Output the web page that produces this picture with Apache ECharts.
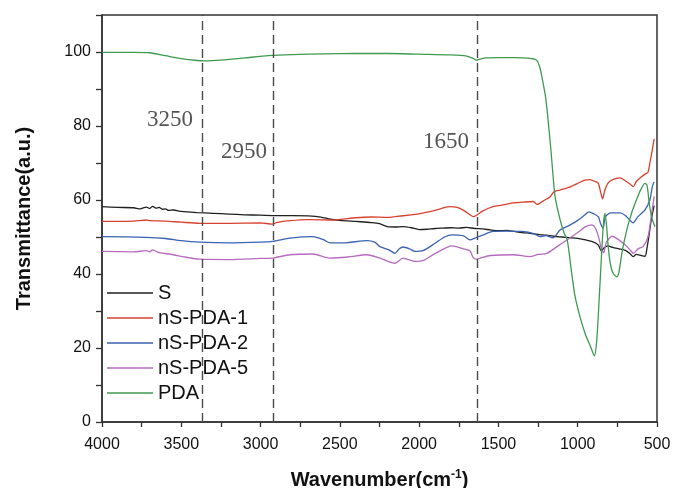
<!DOCTYPE html>
<html>
<head>
<meta charset="utf-8">
<script src="https://cdn.jsdelivr.net/npm/echarts@6/dist/echarts.min.js"></script>
<style>html,body{margin:0;padding:0;background:#fff}#c{width:674px;height:488px}</style>
</head>
<body>
<div id="c"></div>
<script>
// ---- data (wavenumber cm-1, transmittance a.u.) ----
const seriesNames = ['S', 'nS-PDA-1', 'nS-PDA-2', 'nS-PDA-5', 'PDA'];
const xTicks = [4000, 3500, 3000, 2500, 2000, 1500, 1000, 500];
const yTicks = [0, 20, 40, 60, 80, 100];
const markPositions = [3370, 2920, 1635];
const markLabels = ['3250', '2950', '1650'];

const S_wn = [4000,3900,3800,3760,3720,3700,3680,3660,3640,3620,3600,3580,3550,3500,3400,3300,3200,3100,3000,2900,2800,2700,2620,2560,2500,2400,2300,2250,2200,2150,2100,2050,2000,1950,1900,1850,1800,1750,1700,1650,1600,1550,1500,1450,1400,1350,1300,1250,1200,1150,1100,1050,1000,950,900,870,850,835,810,780,740,700,670,650,630,600,575,565,550,535,518];
const S_T  = [58.2,58.0,57.9,57.6,58.1,57.7,58.3,57.8,58.0,57.5,57.6,57.2,57.3,56.9,56.6,56.4,56.2,56.0,55.9,55.8,55.8,55.7,55.4,54.8,54.5,54.2,53.9,53.6,52.8,52.7,52.8,52.5,52.0,52.1,52.3,52.4,52.5,52.4,52.6,52.3,52.2,51.9,51.7,51.8,51.5,51.2,51.0,50.7,50.5,50.2,50.0,49.8,49.6,49.2,48.6,47.8,46.2,47.0,47.6,47.2,46.8,46.4,45.5,44.7,45.3,45.0,44.8,46.5,50.5,55.0,58.5];

const P1_wn = [4000,3800,3720,3700,3600,3500,3382,3200,3000,2924,2900,2814,2700,2543,2400,2300,2200,2152,2050,1995,1900,1806,1760,1720,1679,1660,1640,1600,1534,1480,1408,1350,1282,1255,1238,1200,1175,1150,1112,1050,1000,960,923,890,870,855,843,830,810,780,733,700,670,650,630,600,575,557,545,530,518];
const P1_T  = [54.2,54.3,54.6,54.4,54.3,54.0,53.7,53.7,53.8,53.5,53.9,54.4,54.7,54.6,55.2,55.4,55.3,55.5,56.0,56.3,57.2,58.2,58.0,57.2,56.0,55.5,55.8,57.0,58.2,58.6,59.2,59.4,59.6,58.8,59.2,60.2,60.8,62.2,62.7,63.5,64.5,65.3,65.5,65.0,64.5,62.0,60.3,62.5,64.5,65.5,66.0,65.2,64.3,63.6,65.0,66.2,67.0,67.5,70.0,73.5,76.5];

const P2_wn = [4000,3720,3600,3500,3382,3200,3000,2924,2814,2669,2600,2562,2450,2329,2280,2247,2190,2152,2125,2102,2060,2026,1976,1900,1840,1793,1720,1679,1648,1600,1534,1450,1350,1282,1238,1200,1160,1143,1112,1050,1000,954,930,900,870,855,840,825,790,733,700,670,651,620,576,545,530,519];
const P2_T  = [50.1,49.9,49.6,49.0,48.6,48.4,48.6,48.8,49.7,50.1,49.2,48.4,48.5,49.0,48.6,47.4,46.5,45.6,46.8,47.3,46.8,46.1,46.3,48.3,50.0,50.6,50.3,49.2,49.7,50.5,51.5,51.6,51.5,51.0,50.1,50.4,49.8,50.1,51.9,53.2,54.5,56.0,56.8,56.3,55.5,53.5,52.4,55.5,56.5,56.5,55.8,54.5,53.8,55.5,57.3,60.0,63.5,64.9];

const P5_wn = [4000,3800,3720,3700,3680,3650,3630,3550,3480,3382,3200,3000,2924,2814,2669,2562,2450,2329,2247,2152,2102,2026,1976,1900,1793,1720,1679,1660,1640,1616,1550,1408,1301,1250,1194,1131,1068,1000,950,910,890,865,850,836,820,784,750,702,670,649,620,588,557,540,518];
const P5_T  = [46.1,46.0,46.3,46.0,46.5,45.9,45.7,45.2,44.6,44.0,43.9,44.2,44.3,45.2,45.4,44.3,44.6,45.2,44.3,42.9,44.3,43.4,43.6,45.5,47.6,46.8,46.2,44.5,44.0,44.3,45.0,45.2,44.7,45.3,45.6,47.4,49.2,51.2,52.8,53.3,52.5,49.5,46.5,45.8,48.5,50.2,49.5,47.9,46.5,45.6,46.8,47.4,50.0,54.5,61.0];

const PDA_wn = [4000,3800,3700,3600,3500,3400,3350,3250,3100,2950,2800,2600,2400,2200,2000,1800,1700,1660,1640,1620,1580,1500,1400,1300,1260,1240,1220,1200,1170,1143,1110,1085,1066,1038,1017,986,950,920,895,880,865,850,838,828,818,808,795,780,754,740,720,690,660,630,600,576,563,550,535,513];
const PDA_T  = [99.9,99.9,99.8,99.0,98.2,97.7,97.6,97.8,98.4,99.0,99.3,99.5,99.6,99.6,99.4,99.2,98.9,98.3,97.8,98.0,98.4,98.5,98.5,98.3,97.8,96.0,92.0,87.0,74.0,61.0,54.5,51.0,49.2,40.2,34.0,28.5,23.5,20.5,17.9,22.0,33.0,45.0,53.5,56.4,53.0,47.5,43.0,40.5,39.2,40.5,46.0,52.0,56.5,60.0,63.0,64.5,64.0,59.5,55.5,52.8];

const colors = ['#1f1f1f', '#d8412f', '#3b62b5', '#b66bbf', '#3e9a50'];
const xs = [S_wn, P1_wn, P2_wn, P5_wn, PDA_wn];
const ys = [S_T, P1_T, P2_T, P5_T, PDA_T];

const chart = echarts.init(document.getElementById('c'));
const series = seriesNames.map((n, i) => ({
  name: n,
  type: 'line',
  symbol: 'none',
  showSymbol: false,
  smooth: 0.25,
  data: xs[i].map((w, k) => [w, ys[i][k]]),
  lineStyle: { color: colors[i], width: 1.3 },
  itemStyle: { color: colors[i] },
  z: i === 4 ? 3 : 2,
  animation: false
}));
series[0].markLine = {
  silent: true,
  symbol: 'none',
  animation: false,
  label: { show: false },
  lineStyle: { color: '#4a4a4a', type: [9, 5], width: 1.4 },
  data: markPositions.map(v => ({ xAxis: v }))
};

const fontSans = '"Liberation Sans", Arial, sans-serif';
chart.setOption({
  animation: false,
  backgroundColor: '#fff',
  grid: { left: 102, right: 17, top: 15, bottom: 66, show: true, borderColor: '#333', borderWidth: 1.5, containLabel: false, outerBoundsMode: 'none' },
  legend: {
    data: seriesNames.map((n, i) => ({ name: n, icon: 'rect', itemStyle: { color: colors[i] } })),
    orient: 'vertical',
    left: 102,
    top: 278,
    itemWidth: 46,
    itemHeight: 1.6,
    itemGap: 5,
    textStyle: { fontFamily: fontSans, fontSize: 20, color: '#111', lineHeight: 19 }
  },
  xAxis: {
    type: 'value',
    inverse: true,
    min: 500,
    max: 4000,
    interval: 250,
    name: '{a|Wavenumber(cm}{s|-1}{a|)}',
    nameLocation: 'middle',
    nameGap: 47,
    nameTextStyle: {
      rich: {
        a: { fontFamily: fontSans, fontSize: 20, fontWeight: 'bold', color: '#111', lineHeight: 22 },
        s: { fontFamily: fontSans, fontSize: 12, fontWeight: 'bold', color: '#111', lineHeight: 22, verticalAlign: 'top', padding: [0, 0, 8, 0] }
      }
    },
    axisLine: { show: true, onZero: false, lineStyle: { color: '#333', width: 1.5 } },
    axisTick: { show: true, inside: false, length: 5, lineStyle: { color: '#333', width: 1.3 } },
    axisLabel: {
      margin: 15,
      fontFamily: fontSans, fontSize: 16, color: '#111',
      formatter: v => (xTicks.indexOf(v) >= 0 ? String(v) : '')
    },
    splitLine: { show: false }
  },
  yAxis: {
    type: 'value',
    min: 0,
    max: 110,
    interval: 10,
    name: 'Transmittance(a.u.)',
    nameLocation: 'middle',
    nameGap: 68,
    nameTextStyle: { fontFamily: fontSans, fontSize: 20, fontWeight: 'bold', color: '#111' },
    axisLine: { show: true, onZero: false, lineStyle: { color: '#333', width: 1.5 } },
    axisTick: { show: true, inside: false, length: 6, lineStyle: { color: '#333', width: 1.3 } },
    axisLabel: {
      margin: 11,
      fontFamily: fontSans, fontSize: 16, color: '#111',
      formatter: v => (yTicks.indexOf(v) >= 0 ? String(v) : '')
    },
    splitLine: { show: false }
  },
  graphic: [
    { type: 'text', left: 147, top: 108, style: { text: markLabels[0], font: '23px "Liberation Serif", serif', fill: '#555' } },
    { type: 'text', left: 221, top: 140, style: { text: markLabels[1], font: '23px "Liberation Serif", serif', fill: '#555' } },
    { type: 'text', left: 423, top: 130, style: { text: markLabels[2], font: '23px "Liberation Serif", serif', fill: '#555' } }
  ],
  series: series
});
</script>
</body>
</html>
